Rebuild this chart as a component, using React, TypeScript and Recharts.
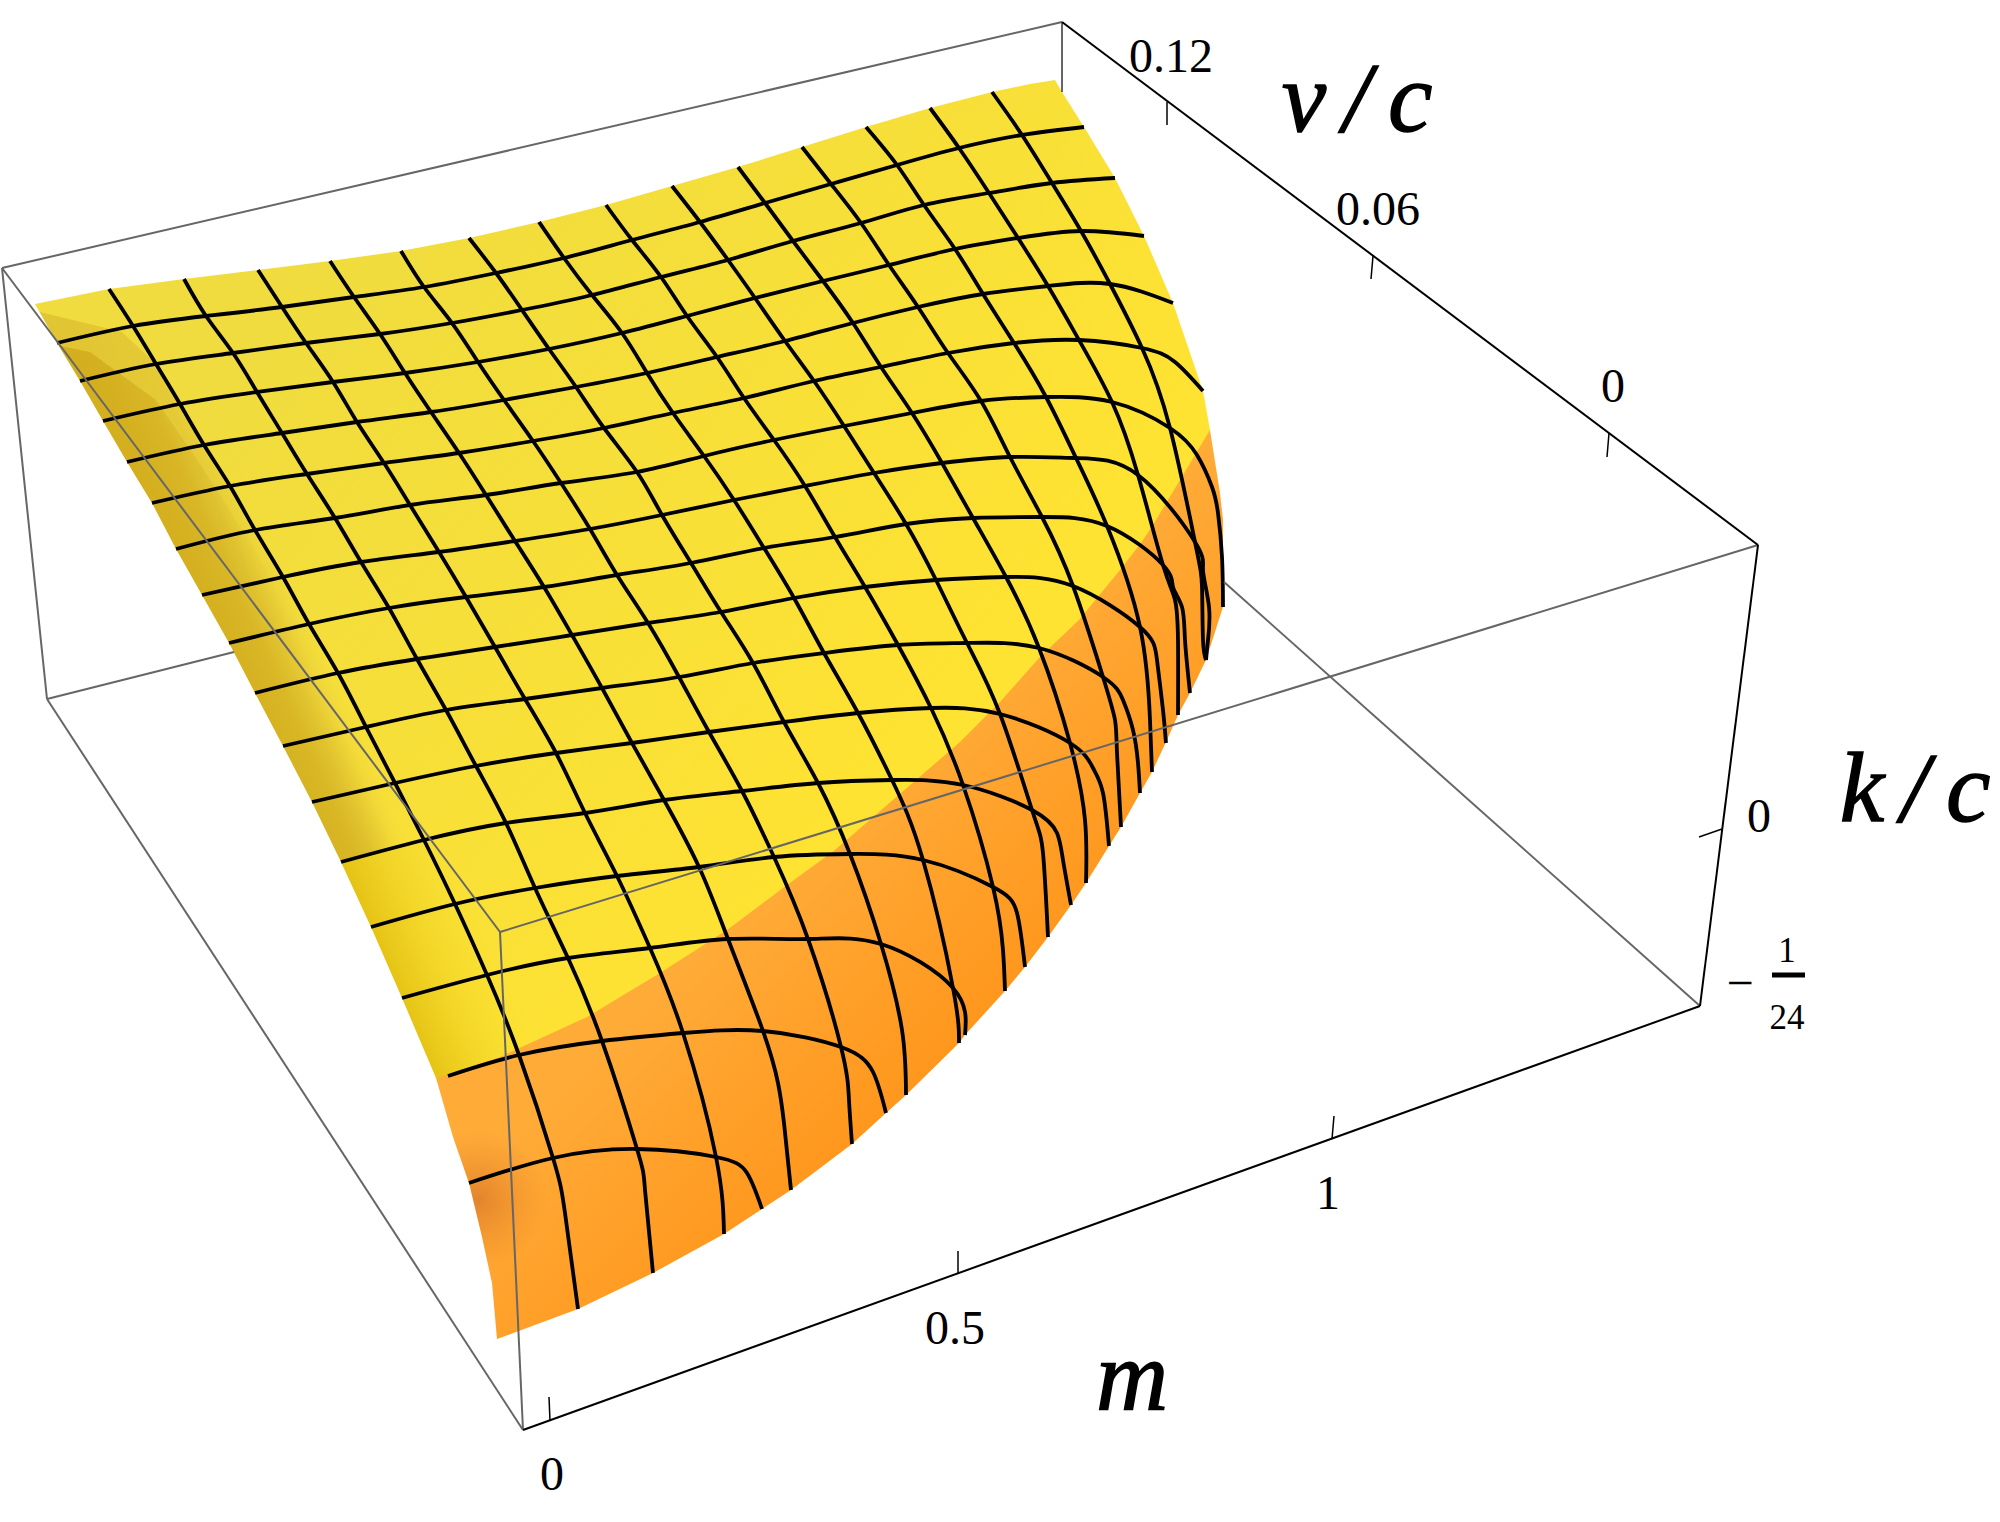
import { Area, ComposedChart, Line, ReferenceDot, XAxis, YAxis } from "recharts";

type Pt = [number, number];

const WIDTH = 2000;
const HEIGHT = 1522;

// everything is read off the picture, in picture pixels: this is a 3D projection
// so the axes of the chart are the picture plane itself

const upperOutline: Pt[] = [
  [35, 304], [109, 289], [184, 279], [258, 270], [330, 261], [401, 251], [469, 238], [539, 222],
  [606, 205], [672, 186], [738, 167], [802, 147], [866, 127], [930, 108], [992, 92], [1030, 84],
  [1055, 80], [1062, 92], [1084, 127], [1115, 178], [1144, 236], [1173, 303], [1203, 391], [1210, 430],
];

const lowerOutline: Pt[] = [
  [32, 300], [35, 304], [57, 343], [80, 381], [103, 421], [127, 462], [152, 503], [176, 549], [202, 595],
  [229, 643], [255, 693], [283, 746], [312, 802], [341, 862], [371, 927], [402, 998], [436, 1078],
  [453, 1137], [469, 1183], [482, 1237], [492, 1283], [497, 1339], [578, 1309], [653, 1273], [724, 1234], [762, 1209], [791, 1190],
  [852, 1144], [886, 1113], [906, 1095], [959, 1043], [965, 1035], [1005, 991], [1025, 967], [1048, 937],
  [1071, 905], [1086, 883], [1109, 846], [1121, 827], [1140, 793], [1152, 772], [1166, 742], [1178, 715],
  [1190, 693], [1206, 660], [1223, 607], [1227, 607],
];

const orangeEdge: Pt[] = [
  [437, 1078], [500, 1057], [587, 1017], [660, 973], [727, 930], [783, 888],
  [835, 850], [960, 742], [1000, 702], [1040, 657], [1079, 620], [1120, 570], [1141, 543], [1153, 525],
  [1210, 430], [1220, 493], [1223, 520],
];

const softBandEdge: Pt[] = [
  [40, 312], [122, 332], [156, 364], [180, 404], [204, 445], [230, 486], [255, 530], [283, 577],
  [309, 624], [338, 673], [366, 727], [395, 783], [424, 840],
];

const darkBandEdge: Pt[] = [
  [55, 345], [90, 352], [156, 400], [204, 470], [255, 550], [309, 640], [366, 745], [424, 850],
];

const brightPatchEdge: Pt[] = [
  [341, 862], [424, 840], [506, 823], [585, 813], [664, 800],
];

const shadowEdge: Pt[] = [
  [437, 1078], [500, 1057], [587, 1017],
];

const rowStarts: Pt[] = [
  [57, 343], [80, 381], [103, 421], [127, 462], [152, 503], [176, 549], [202, 595], [229, 643],
  [255, 693], [283, 746], [312, 802], [341, 862], [371, 927], [402, 998], [448, 1076], [469, 1183],
];

// crossings of each row with the columns, left to right
const meshRows: Pt[][] = [
  [[133, 326], [206, 316], [282, 307], [354, 297], [424, 287], [496, 273], [564, 258], [632, 240], [700, 222], [765, 203], [831, 184], [897, 165], [959, 148], [1022, 135]],
  [[156, 364], [233, 353], [306, 343], [380, 334], [452, 323], [522, 310], [592, 295], [661, 277], [728, 260], [793, 241], [861, 223], [924, 205], [989, 193], [1052, 183]],
  [[180, 404], [257, 392], [333, 382], [405, 373], [478, 362], [549, 349], [622, 333], [687, 316], [755, 298], [823, 281], [889, 265], [955, 249], [1018, 238], [1081, 231]],
  [[204, 445], [282, 433], [357, 422], [431, 412], [504, 400], [576, 387], [647, 373], [717, 357], [785, 341], [853, 323], [918, 307], [983, 294], [1048, 286], [1110, 284]],
  [[230, 486], [307, 474], [384, 463], [459, 453], [533, 441], [604, 428], [673, 413], [744, 398], [814, 381], [881, 367], [948, 353], [1014, 343], [1079, 340], [1142, 348]],
  [[255, 530], [335, 518], [410, 505], [486, 495], [561, 483], [637, 472], [704, 456], [774, 440], [844, 426], [912, 413], [981, 401], [1046, 397], [1112, 402], [1170, 428]],
  [[283, 577], [361, 562], [439, 552], [515, 541], [590, 529], [662, 515], [734, 500], [805, 486], [874, 473], [942, 463], [1010, 457], [1076, 458], [1138, 475], [1195, 542]],
  [[309, 624], [389, 608], [466, 597], [544, 587], [617, 575], [691, 563], [764, 548], [835, 537], [906, 524], [973, 518], [1042, 517], [1107, 526], [1163, 565]],
  [[338, 673], [417, 659], [495, 647], [572, 635], [648, 623], [721, 612], [794, 598], [865, 587], [936, 580], [1006, 577], [1073, 586], [1140, 627]],
  [[366, 727], [446, 710], [525, 699], [602, 688], [679, 677], [753, 663], [824, 653], [898, 645], [967, 643], [1039, 648], [1103, 677]],
  [[395, 783], [476, 766], [556, 753], [632, 743], [709, 732], [784, 722], [858, 713], [931, 708], [1000, 714], [1070, 743]],
  [[424, 840], [506, 823], [585, 813], [664, 800], [742, 791], [818, 783], [892, 780], [963, 785], [1032, 810]],
  [[455, 904], [535, 888], [617, 876], [699, 867], [774, 857], [850, 854], [923, 860], [993, 887]],
  [[487, 975], [568, 958], [650, 948], [728, 939], [808, 939], [881, 944], [953, 988]],
  [[519, 1055], [602, 1041], [683, 1033], [763, 1031], [841, 1047]],
  [[553, 1158], [637, 1149], [716, 1157]],
];

const rowTails: Pt[][] = [
  [[1084, 127]],
  [[1115, 178]],
  [[1144, 236]],
  [[1173, 303]],
  [[1175, 362], [1203, 391]],
  [[1197, 455], [1212, 487], [1218, 513], [1222, 557], [1223, 607]],
  [[1203, 570], [1209, 607], [1208, 640], [1206, 660]],
  [[1173, 587], [1182, 607], [1185, 640], [1190, 693]],
  [[1157, 660], [1163, 710], [1166, 743]],
  [[1123, 700], [1133, 730], [1138, 763], [1140, 793]],
  [[1093, 768], [1103, 793], [1109, 846]],
  [[1057, 833], [1063, 860], [1071, 905]],
  [[1017, 913], [1025, 967]],
  [[965, 1035]],
  [[873, 1072], [886, 1113]],
  [[747, 1173], [762, 1209]],
];

const columnHeads: Pt[] = [
  [109, 289], [184, 279], [258, 270], [330, 261], [401, 251], [469, 238], [539, 222],
  [606, 205], [672, 186], [738, 167], [802, 147], [866, 127], [930, 108], [992, 92],
];

const columnTails: Pt[][] = [
  [[565, 1213], [578, 1309]],
  [[645, 1190], [653, 1273]],
  [[724, 1234]],
  [[778, 1083], [784, 1123], [791, 1190]],
  [[849, 1100], [852, 1144]],
  [[902, 1030], [906, 1095]],
  [[959, 1043]],
  [[1003, 950], [1005, 991]],
  [[1043, 853], [1048, 937]],
  [[1085, 820], [1086, 883]],
  [[1115, 720], [1117, 753], [1121, 827]],
  [[1150, 720], [1152, 772]],
  [[1175, 600], [1178, 640], [1178, 715]],
  [[1202, 587], [1203, 640], [1206, 660]],
];

const grayEdges: Pt[][] = [
  [[2, 268], [1062, 22]],
  [[2, 268], [47, 699]],
  [[47, 699], [234, 652]],
  [[47, 699], [523, 1430]],
  [[1062, 22], [1062, 92]],
  [[1224, 582], [1700, 1006]],
  [[2, 268], [500, 932]],
  [[500, 932], [1758, 545]],
  [[500, 932], [523, 1430]],
];

const axisEdges: Pt[][] = [
  [[1062, 22], [1758, 545]],
  [[1758, 545], [1700, 1006]],
  [[523, 1430], [1700, 1006]],
];

const tickMarks: Pt[][] = [
  [[549, 1397], [550, 1421]],
  [[958, 1251], [958, 1273]],
  [[1334, 1116], [1332, 1139]],
  [[1699, 837], [1722, 829]],
  [[1607, 457], [1609, 433]],
  [[1371, 279], [1373, 256]],
  [[1167, 125], [1167, 102]],
];

const fractionBar: Pt[] = [[1772, 975], [1805, 975]];

const tickLabels: { text: string; at: Pt; size: number }[] = [
  { text: "0.12", at: [1171, 55], size: 48 },
  { text: "0.06", at: [1378, 208], size: 48 },
  { text: "0", at: [1613, 385], size: 48 },
  { text: "0", at: [1759, 815], size: 48 },
  { text: "\u2212", at: [1740, 982], size: 48 },
  { text: "1", at: [1787, 950], size: 35 },
  { text: "24", at: [1787, 1017], size: 35 },
  { text: "0", at: [552, 1473], size: 48 },
  { text: "0.5", at: [955, 1327], size: 48 },
  { text: "1", at: [1328, 1192], size: 48 },
];

const axisTitles: { text: string; at: Pt }[] = [
  { text: "v / c", at: [1357, 95] },
  { text: "k / c", at: [1915, 785] },
  { text: "m", at: [1132, 1373] },
];

const toData = (pts: Pt[]) => pts.map(([x, y]) => ({ x, y }));

const rowLines = meshRows.map((row, j) => [rowStarts[j], ...row, ...rowTails[j]]);
const columnLines = columnHeads.map((head, i) => [
  head,
  ...meshRows.filter((row) => row.length > i).map((row) => row[i]),
  ...columnTails[i],
]);

function fillArea(id: string, pts: Pt[], fill: string) {
  return (
    <Area
      key={id}
      data={toData(pts)}
      dataKey="y"
      type="linear"
      baseValue={HEIGHT}
      fill={fill}
      fillOpacity={1}
      stroke="none"
      dot={false}
      activeDot={false}
      isAnimationActive={false}
      legendType="none"
    />
  );
}

function pathLine(id: string, pts: Pt[], stroke: string, width: number, smooth = false) {
  return (
    <Line
      key={id}
      data={toData(pts)}
      dataKey="y"
      type={smooth ? "natural" : "linear"}
      stroke={stroke}
      strokeWidth={width}
      strokeLinejoin="round"
      dot={false}
      activeDot={false}
      isAnimationActive={false}
      legendType="none"
    />
  );
}

function label(id: string, text: string, at: Pt, size: number, italic: boolean) {
  return (
    <ReferenceDot
      key={id}
      x={at[0]}
      y={at[1]}
      r={0}
      fill="none"
      stroke="none"
      ifOverflow="visible"
      label={{
        value: text,
        position: "center",
        fill: "#000",
        style: {
          fontFamily: "'Liberation Serif', serif",
          fontSize: size,
          fontStyle: italic ? "italic" : "normal",
          stroke: italic ? "#000" : "none",
          strokeWidth: italic ? 1.4 : 0,
          wordSpacing: italic ? "-8px" : undefined,
        },
      }}
    />
  );
}

export default function App() {
  return (
    <div style={{ position: "absolute", left: 0, top: 0, width: WIDTH, height: HEIGHT }}>
      <ComposedChart width={WIDTH} height={HEIGHT} margin={{ top: 0, right: 0, bottom: 0, left: 0 }}>
        <defs>
          <linearGradient id="yellow" gradientUnits="userSpaceOnUse" x1="300" y1="300" x2="900" y2="800">
            <stop offset="0%" stopColor="#f0dc3e" />
            <stop offset="100%" stopColor="#ffe332" />
          </linearGradient>
          <linearGradient id="orange" gradientUnits="userSpaceOnUse" x1="700" y1="950" x2="900" y2="1150">
            <stop offset="0%" stopColor="#ffab38" />
            <stop offset="100%" stopColor="#ff9419" />
          </linearGradient>
          <linearGradient id="softBand" gradientUnits="userSpaceOnUse" x1="152" y1="503" x2="240" y2="464">
            <stop offset="0%" stopColor="#d6b228" stopOpacity={0.55} />
            <stop offset="60%" stopColor="#dcbc30" stopOpacity={0.55} />
            <stop offset="100%" stopColor="#e0c038" stopOpacity={0} />
          </linearGradient>
          <linearGradient id="darkBand" gradientUnits="userSpaceOnUse" x1="152" y1="503" x2="225" y2="470">
            <stop offset="0%" stopColor="#d2ac1c" stopOpacity={0.9} />
            <stop offset="50%" stopColor="#d4b020" stopOpacity={0.75} />
            <stop offset="100%" stopColor="#d8b82c" stopOpacity={0} />
          </linearGradient>
          <linearGradient id="brightBand" gradientUnits="userSpaceOnUse" x1="341" y1="862" x2="440" y2="820">
            <stop offset="0%" stopColor="#e4c214" stopOpacity={1} />
            <stop offset="100%" stopColor="#f8dc28" stopOpacity={0} />
          </linearGradient>
          <radialGradient id="shadow" gradientUnits="userSpaceOnUse" cx="478" cy="1200" r="70">
            <stop offset="0%" stopColor="#dc7a2a" stopOpacity={0.8} />
            <stop offset="100%" stopColor="#e88a2a" stopOpacity={0} />
          </radialGradient>
        </defs>
        <XAxis type="number" dataKey="x" domain={[0, WIDTH]} hide allowDataOverflow />
        <YAxis type="number" domain={[0, HEIGHT]} reversed hide allowDataOverflow />

        {fillArea("surface", upperOutline, "url(#yellow)")}
        {fillArea("softBand", softBandEdge, "url(#softBand)")}
        {fillArea("darkBand", darkBandEdge, "url(#darkBand)")}
        {fillArea("brightPatch", brightPatchEdge, "url(#yellow)")}
        {fillArea("brightBand", brightPatchEdge, "url(#brightBand)")}
        {fillArea("orange", orangeEdge, "url(#orange)")}
        {fillArea("shadow", shadowEdge, "url(#shadow)")}
        {fillArea("mask", lowerOutline, "#ffffff")}

        {rowLines.map((pts, j) => pathLine(`row${j}`, pts, "#000", 3.8, true))}
        {columnLines.map((pts, i) => pathLine(`col${i}`, pts, "#000", 3.8, true))}
        {grayEdges.map((pts, i) => pathLine(`gray${i}`, pts, "#666", 2))}
        {axisEdges.map((pts, i) => pathLine(`axis${i}`, pts, "#000", 2))}
        {tickMarks.map((pts, i) => pathLine(`tick${i}`, pts, "#000", 1.5))}
        {pathLine("fractionBar", fractionBar, "#000", 5)}

        {tickLabels.map((t, i) => label(`t${i}`, t.text, t.at, t.size, false))}
        {axisTitles.map((t, i) => label(`title${i}`, t.text, t.at, 100, true))}
      </ComposedChart>
    </div>
  );
}
